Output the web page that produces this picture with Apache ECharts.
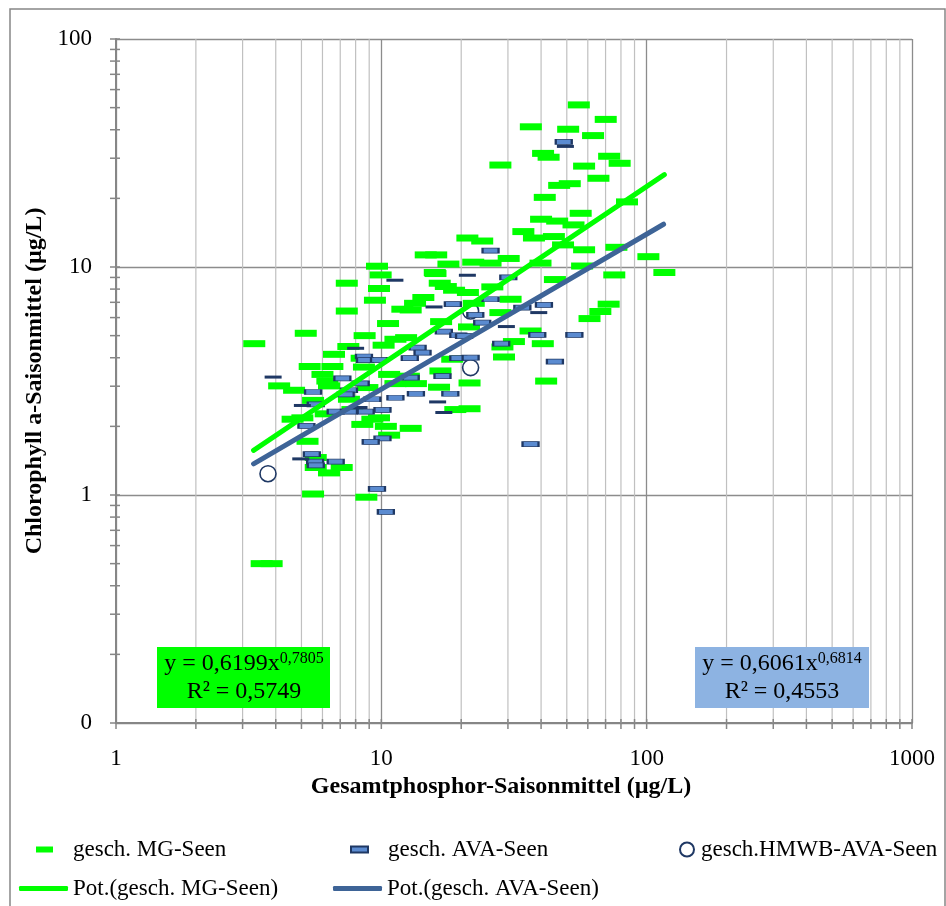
<!DOCTYPE html>
<html><head><meta charset="utf-8">
<script src="https://cdn.jsdelivr.net/npm/echarts@6/dist/echarts.min.js"></script>
<style>html,body{margin:0;padding:0;background:#fff}#c{width:946px;height:906px}</style>
</head><body><div id="c"></div>
<script>
// ---- data ----
const mgPoints = [
[55.5,51.4],[70.1,44.4],[36.6,41.2],[50.6,40.2],[62.8,37.7],[40.7,31.5],[42.7,30.3],[28.1,28.0],[72.2,30.6],[79.1,28.5],[58.1,27.7],[65.8,24.5],[46.8,22.8],[51.3,23.2],[41.3,20.2],[84.3,19.3],[56.4,17.2],[40.0,16.2],[46.0,15.9],[53.0,15.3],[34.3,14.3],
[21.1,13.4],[24.0,13.0],[37.6,13.4],[44.7,13.6],[48.4,12.5],[58.1,11.9],[76.9,12.2],[101.5,11.1],[116.6,9.46],[16.1,11.3],[17.9,10.3],[22.2,10.5],[25.8,10.4],[30.2,10.9],[39.8,10.4],[57.1,10.1],[75.5,9.23],[15.9,9.46],[16.6,8.49],[17.5,8.21],[45.1,8.81],[26.2,8.18],[21.2,7.73],
[30.7,7.22],[28.1,6.31],[71.9,6.87],[66.9,6.38],[60.9,5.94],[36.5,5.24],[21.4,5.46],[31.6,4.71],[28.6,4.46],[40.6,4.61],[29.0,4.03],[21.5,3.10],[41.8,3.16],[21.5,2.39],[22.3,6.93],
[14.7,11.3],[9.63,10.08],[9.94,9.23],[16.0,9.36],[7.41,8.49],[9.80,8.05],[9.46,7.15],[14.4,7.35],[13.4,6.93],[12.9,6.48],[7.41,6.41],[12.0,6.53],[18.8,7.91],[10.6,5.65],[16.8,5.76],[5.19,5.12],[8.65,5.00],[3.32,4.61],[7.51,4.48],[10.2,4.54],[11.3,4.82],[12.4,4.90],[6.63,4.14],[8.43,3.98],[5.37,3.66],[6.54,3.66],[8.60,3.64],[10.7,3.38],[6.00,3.38],[4.12,3.01],[6.26,3.16],[4.69,2.88],[6.35,3.01],[8.86,2.96],[11.3,3.08],[16.5,2.97],[7.55,2.63],[13.5,3.08],[12.7,3.32],[5.53,2.60],[19.0,2.37],[5.04,2.18],[6.17,2.27],[9.25,2.15],[8.48,2.04],[10.4,2.00],[12.9,1.96],[10.7,1.83],[5.27,1.72],[5.66,1.46],[5.66,1.32],[6.35,1.25],[7.09,1.32],[5.53,1.01],[8.78,0.978],[3.54,0.5],[3.86,0.5],[9.8,2.18],[4.63,2.15],[7.78,2.37],[18.5,3.94],[16.7,3.50]
];
const avaPoints = [
[18.6,6.87],[17.2,5.21],[19.5,5.02],[8.60,4.05],[8.68,3.90],[9.80,3.91],[13.7,4.43],[14.3,4.21],[12.8,3.98],[19.5,3.98],[7.13,3.25],[8.36,3.09],[12.9,3.27],[17.0,3.32],[5.53,2.83],[7.55,2.88],[7.34,2.76],[9.25,2.63],[11.3,2.67],[13.5,2.78],[18.2,2.78],[5.66,2.50],[6.73,2.32],[7.55,2.32],[8.73,2.32],[10.1,2.36],[5.22,2.01],[10.1,1.77],[9.12,1.71],[5.47,1.51],[5.63,1.40],[5.66,1.35],[6.73,1.40],[9.63,1.065],[10.4,0.844],
[25.8,11.8],[30.1,9.00],[25.8,7.22],[34.0,6.64],[41.0,6.82],[22.6,6.16],[24.0,5.70],[38.7,5.04],[53.4,5.04],[20.5,4.98],[28.3,4.61],[21.7,4.00],[45.1,3.85],[36.5,1.67],[48.7,35.4]
];
const avaDarkPoints = [[11.25,8.75],[15.8,6.68],[8.0,4.40],[3.91,3.29],[16.3,2.56],[17.2,2.30],[5.04,2.47],[8.24,2.42],[4.97,1.44],[21.1,9.20],[39.2,6.31],[29.6,5.48],[49.4,33.8]];
const hmwbPoints = [[3.74,1.24],[21.7,3.62],[21.7,6.41]];
const mgTrendX = [3.3, 116.6];
const mgTrendY = [1.57, 25.4];
const avaTrendX = [3.3, 115.8];
const avaTrendY = [1.37, 15.4];
const xMajorTicks = [1, 10, 100, 1000];
const xMinorTicks = [2,3,4,5,6,7,8,9,20,30,40,50,60,70,80,90,200,300,400,500,600,700,800,900];
const yMajorTicks = [0.1, 1, 10, 100];
const yMinorTicks = [0.2,0.3,0.4,0.5,0.6,0.7,0.8,0.9,2,3,4,5,6,7,8,9,20,30,40,50,60,70,80,90];
const eqMG = ['y = 0,6199x', '0,7805', 'R² = 0,5749'];
const eqAVA = ['y = 0,6061x', '0,6814', 'R² = 0,4553'];

// ---- chart ----
const SERIF = "'Liberation Serif','Times New Roman',serif";
const GREEN = '#00FF00', NAVY = '#1F3864', BLUEFILL = '#5B8BD0', TRENDBLUE = '#3E6497';
const chart = echarts.init(document.getElementById('c'), null, {renderer: 'canvas'});

const xTickData = xMinorTicks.map(v => [v, 0.1, 1]).concat(xMajorTicks.map(v => [v, 0.1, 0]));
const yTickData = yMinorTicks.concat(yMajorTicks).map(v => [1, v]);

const legendBase = {orient: 'horizontal', padding: 0, selectedMode: false, itemGap: 0};
const legText = {fontFamily: SERIF, fontSize: 23, color: '#000'};

function eqText(e) {
  return '{a|' + e[0] + '}{s|' + e[1] + '}\n{a|' + e[2] + '}';
}
const eqRich = {
  a: {fontFamily: SERIF, fontSize: 24, lineHeight: 28, fill: '#000'},
  s: {fontFamily: SERIF, fontSize: 16, lineHeight: 28, verticalAlign: 'top', fill: '#000', padding: [1,0,0,0]}
};

chart.setOption({
  animation: false,
  backgroundColor: '#fff',
  grid: {left: 116, top: 39, width: 796, height: 684, containLabel: false},
  xAxis: {
    type: 'log', logBase: 10, min: 1, max: 1000,
    name: 'Gesamtphosphor-Saisonmittel (µg/L)', nameLocation: 'middle', nameGap: 52,
    nameTextStyle: {fontFamily: SERIF, fontSize: 24, fontWeight: 'bold', color: '#000', padding: [0, 26, 0, 0]},
    axisLine: {lineStyle: {color: '#868686', width: 2}},
    axisTick: {show: false},
    axisLabel: {fontFamily: SERIF, fontSize: 23, color: '#000', margin: 24, formatter: v => String(v)},
    splitLine: {show: true, lineStyle: {color: '#8c8c8c', width: 1.3}}
  },
  yAxis: {
    type: 'log', logBase: 10, min: 0.1, max: 100,
    name: 'Chlorophyll a-Saisonmittel (µg/L)', nameLocation: 'middle', nameGap: 67,
    nameTextStyle: {fontFamily: SERIF, fontSize: 24, fontWeight: 'bold', color: '#000'},
    axisLine: {lineStyle: {color: '#868686', width: 2}},
    axisTick: {show: false},
    axisLabel: {fontFamily: SERIF, fontSize: 23, color: '#000', margin: 24, formatter: v => (v < 1 ? '0' : String(Math.round(v)))},
    splitLine: {show: true, lineStyle: {color: '#8c8c8c', width: 1.3}}
  },
  legend: [
    Object.assign({}, legendBase, {data: [{name: 'gesch. MG-Seen', icon: 'rect'}], left: 36, top: 838, itemWidth: 17, itemHeight: 6, textStyle: Object.assign({}, legText, {padding: [0,0,0,15]})}),
    Object.assign({}, legendBase, {data: [{name: 'gesch. AVA-Seen', icon: 'rect'}], left: 350, top: 838, itemWidth: 17, itemHeight: 6, textStyle: Object.assign({}, legText, {padding: [0,0,0,15]})}),
    Object.assign({}, legendBase, {data: [{name: 'gesch.HMWB-AVA-Seen', icon: 'circle'}], left: 679, top: 838, itemWidth: 14, itemHeight: 14, textStyle: Object.assign({}, legText, {padding: [0,0,0,2]})}),
    Object.assign({}, legendBase, {data: [{name: 'Pot.(gesch. MG-Seen)', icon: 'roundRect'}], left: 19, top: 877, itemWidth: 49, itemHeight: 5, textStyle: legText}),
    Object.assign({}, legendBase, {data: [{name: 'Pot.(gesch. AVA-Seen)', icon: 'roundRect'}], left: 333, top: 877, itemWidth: 49, itemHeight: 5, textStyle: legText})
  ],
  graphic: [
    {type: 'rect', silent: true, z: -10, shape: {x: 10, y: 9, width: 935, height: 920}, style: {fill: 'none', stroke: '#868686', lineWidth: 1.5}},
    {type: 'rect', silent: true, z: 50, shape: {x: 157, y: 647, width: 173, height: 61}, style: {fill: GREEN}},
    {type: 'text', silent: true, z: 51, x: 244, y: 678, style: {text: eqText(eqMG), rich: eqRich, align: 'center', verticalAlign: 'middle', textAlign: 'center', textVerticalAlign: 'middle', fill: '#000'}},
    {type: 'rect', silent: true, z: 50, shape: {x: 695, y: 647, width: 174, height: 61}, style: {fill: '#8DB3E2'}},
    {type: 'text', silent: true, z: 51, x: 782, y: 678, style: {text: eqText(eqAVA), rich: eqRich, align: 'center', verticalAlign: 'middle', textAlign: 'center', textVerticalAlign: 'middle', fill: '#000'}}
  ],
  series: [
    {
      type: 'custom', name: 'xTicks', silent: true, clip: false, z: 1,
      data: xTickData, encode: {x: 0, y: 1},
      renderItem: (params, api) => {
        const v = api.value(0);
        const bot = api.coord([v, 0.1]);
        const top = api.coord([v, 100]);
        const children = [];
        if (api.value(2) === 1) {
          children.push({type: 'line', shape: {x1: bot[0], y1: top[1], x2: bot[0], y2: bot[1]}, style: {stroke: '#c0c0c0', lineWidth: 1.2}});
        }
        children.push({type: 'line', shape: {x1: bot[0], y1: bot[1] - 4, x2: bot[0], y2: bot[1] + 6}, style: {stroke: '#868686', lineWidth: 1.5}});
        return {type: 'group', children};
      }
    },
    {
      type: 'custom', name: 'yTicks', silent: true, clip: false, z: 1,
      data: yTickData, encode: {x: 0, y: 1},
      renderItem: (params, api) => {
        const p = api.coord([1, api.value(1)]);
        return {type: 'line', shape: {x1: p[0] - 6, y1: p[1], x2: p[0] + 4, y2: p[1]}, style: {stroke: '#868686', lineWidth: 1.5}};
      }
    },
    {
      type: 'scatter', name: 'gesch.HMWB-AVA-Seen', data: hmwbPoints, symbol: 'circle', symbolSize: 16, z: 2,
      itemStyle: {color: '#ffffff', borderColor: NAVY, borderWidth: 1.6, opacity: 1}
    },
    {
      type: 'scatter', name: 'gesch. MG-Seen', data: mgPoints, symbol: 'rect', symbolSize: [22, 7], z: 3,
      itemStyle: {color: GREEN, opacity: 1}
    },
    {
      type: 'scatter', name: 'gesch. AVA-Seen', data: avaPoints, symbol: 'rect', symbolSize: [16, 5], z: 4,
      itemStyle: {color: BLUEFILL, borderColor: NAVY, borderWidth: 1.3, opacity: 1}
    },
    {
      type: 'scatter', name: 'AVA (verdeckt)', data: avaDarkPoints, symbol: 'rect', symbolSize: [17, 3], z: 4,
      itemStyle: {color: NAVY, opacity: 1}
    },
    {
      type: 'line', name: 'Pot.(gesch. MG-Seen)', data: mgTrendX.map((x, i) => [x, mgTrendY[i]]), symbol: 'none', z: 6, silent: true,
      itemStyle: {color: GREEN}, lineStyle: {color: GREEN, width: 5, cap: 'round'}
    },
    {
      type: 'line', name: 'Pot.(gesch. AVA-Seen)', data: avaTrendX.map((x, i) => [x, avaTrendY[i]]), symbol: 'none', z: 7, silent: true,
      itemStyle: {color: TRENDBLUE}, lineStyle: {color: TRENDBLUE, width: 5, cap: 'round'}
    }
  ]
});
</script></body></html>
